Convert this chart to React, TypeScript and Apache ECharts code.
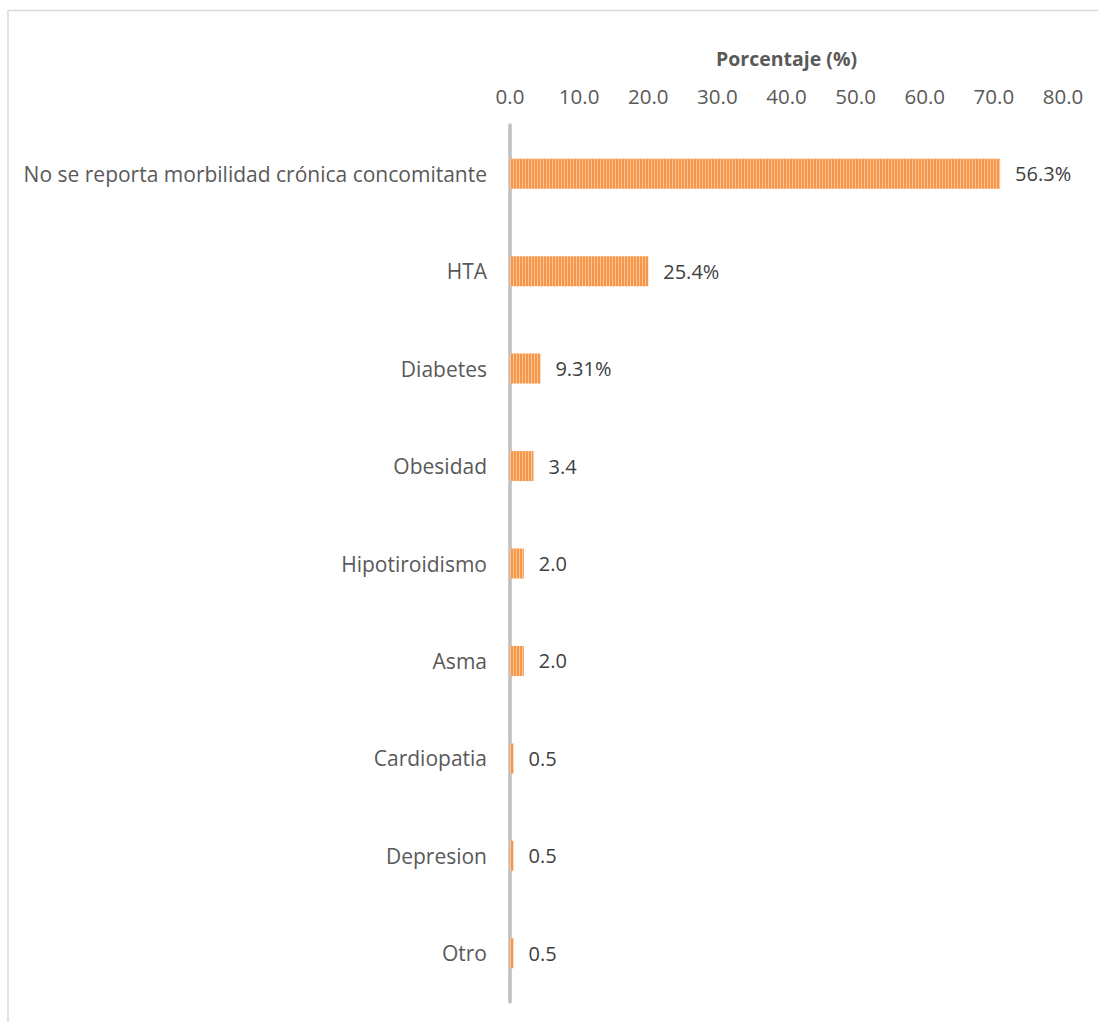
import React, { useEffect, useRef } from "react";
import * as echarts from "echarts";

const categories = [
  "No se reporta morbilidad crónica concomitante",
  "HTA",
  "Diabetes",
  "Obesidad",
  "Hipotiroidismo",
  "Asma",
  "Cardiopatia",
  "Depresion",
  "Otro",
];
const values = [70.9, 20.0, 4.4, 3.4, 2.0, 2.0, 0.5, 0.5, 0.5];
const labelTexts = ["56.3%", "25.4%", "9.31%", "3.4", "2.0", "2.0", "0.5", "0.5", "0.5"];
const axisTitle = "Porcentaje (%)";

const FONT = "'Open Sans', sans-serif";

export default function App() {
  const ref = useRef<HTMLDivElement>(null);
  useEffect(() => {
    if (!ref.current) return;
    const chart = echarts.init(ref.current, null, { renderer: "svg" });
    chart.setOption({
      animation: false,
      backgroundColor: "#ffffff",
      grid: { left: 510, right: 35, top: 125, bottom: 20, containLabel: false },
      graphic: [
        {
          type: "rect",
          shape: { x: 8, y: 10.5, width: 1200, height: 1200 },
          style: { fill: "none", stroke: "#d9d9d9", lineWidth: 1.5 },
          silent: true,
        },
      ],
      xAxis: {
        type: "value",
        position: "top",
        min: 0,
        max: 80,
        interval: 10,
        name: axisTitle,
        nameLocation: "middle",
        nameGap: 57,
        nameTextStyle: { fontFamily: FONT, fontSize: 19.5, fontWeight: "bold", color: "#595959" },
        axisLine: { show: false },
        axisTick: { show: false },
        splitLine: { show: false },
        axisLabel: {
          margin: 19,
          fontFamily: FONT,
          fontSize: 20.5,
          color: "#595959",
          formatter: (v: number) => v.toFixed(1),
        },
      },
      yAxis: {
        type: "category",
        data: categories,
        inverse: true,
        axisLine: { show: true, lineStyle: { color: "#bfbfbf", width: 3.5 } },
        axisTick: { show: false },
        axisLabel: { margin: 23, fontFamily: FONT, fontSize: 21, color: "#595959" },
      },
      series: [
        {
          type: "bar",
          data: values,
          barWidth: 30,
          itemStyle: {
            color: "#f79646",
            decal: {
              symbol: "rect",
              symbolSize: 1,
              dashArrayX: [1, 2],
              dashArrayY: [10, 0],
              rotation: 0,
              color: "rgba(255,255,255,0.45)",
            },
          },
          label: {
            show: true,
            position: "right",
            distance: 15,
            fontFamily: FONT,
            fontSize: 20,
            color: "#404040",
            formatter: (p: any) => labelTexts[p.dataIndex],
          },
        },
      ],
      aria: { enabled: false, decal: { show: true } },
    });
    return () => chart.dispose();
  }, []);
  return (
    <div
      ref={ref}
      style={{ position: "absolute", left: 0, top: 0, width: 1098, height: 1022 }}
    />
  );
}
